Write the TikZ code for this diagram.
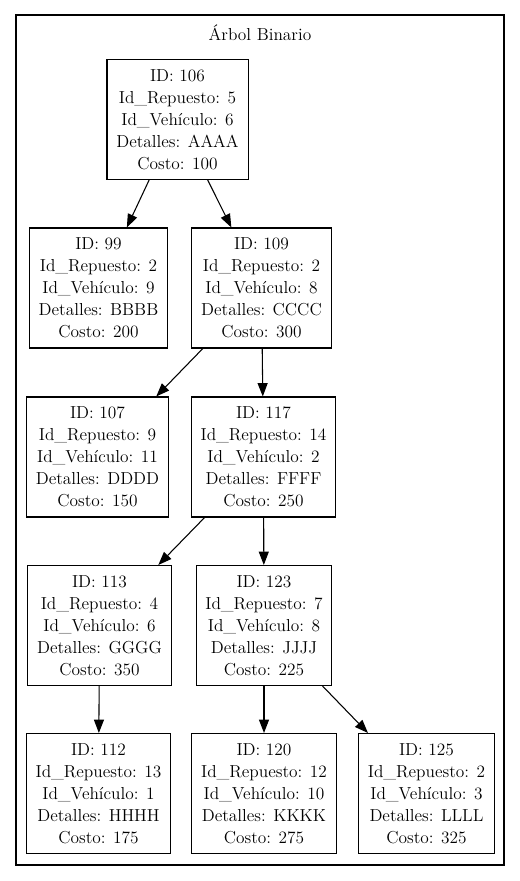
\documentclass[tikz,border=0pt]{standalone}
\usetikzlibrary{arrows.meta}
\tikzset{
  nodo/.style={draw, line width=0.8pt, align=center, inner xsep=7pt, minimum height=90pt,
    font=\fontsize{13}{16.5}\selectfont},
  flecha/.style={line width=0.8pt, -{Triangle[length=10pt,width=7.5pt]}}
}
\begin{document}
\begin{tikzpicture}[x=0.75pt,y=-0.75pt]
\useasboundingbox (0,0) rectangle (520,881);
% cluster
\draw[line width=0.8pt] (16,15) rectangle (504,865);
\node[font=\fontsize{13}{16.5}\selectfont] (titulo) at (260,33) {Árbol Binario};

% nodes
\node[nodo] (n106) at (177.5,119.5) {ID: 106\\Id\_Repuesto: 5\\Id\_Vehículo: 6\\Detalles: AAAA\\Costo: 100};
\node[nodo] (n99) at (98.5,288) {ID: 99\\Id\_Repuesto: 2\\Id\_Vehículo: 9\\Detalles: BBBB\\Costo: 200};
\node[nodo] (n109) at (261.5,288) {ID: 109\\Id\_Repuesto: 2\\Id\_Vehículo: 8\\Detalles: CCCC\\Costo: 300};
\node[nodo] (n107) at (97.5,457) {ID: 107\\Id\_Repuesto: 9\\Id\_Vehículo: 11\\Detalles: DDDD\\Costo: 150};
\node[nodo] (n117) at (263.5,457) {ID: 117\\Id\_Repuesto: 14\\Id\_Vehículo: 2\\Detalles: FFFF\\Costo: 250};
\node[nodo] (n113) at (99.5,625.5) {ID: 113\\Id\_Repuesto: 4\\Id\_Vehículo: 6\\Detalles: GGGG\\Costo: 350};
\node[nodo] (n123) at (264,625.5) {ID: 123\\Id\_Repuesto: 7\\Id\_Vehículo: 8\\Detalles: JJJJ\\Costo: 225};
\node[nodo] (n112) at (98.5,793.5) {ID: 112\\Id\_Repuesto: 13\\Id\_Vehículo: 1\\Detalles: HHHH\\Costo: 175};
\node[nodo] (n120) at (264,793.5) {ID: 120\\Id\_Repuesto: 12\\Id\_Vehículo: 10\\Detalles: KKKK\\Costo: 275};
\node[nodo] (n125) at (426.5,793.5) {ID: 125\\Id\_Repuesto: 2\\Id\_Vehículo: 3\\Detalles: LLLL\\Costo: 325};

% edges
\draw[flecha] (n106) -- (n99);
\draw[flecha] (n106) -- (n109);
\draw[flecha] (n109) -- (n107);
\draw[flecha] (n109) -- (n117);
\draw[flecha] (n117) -- (n113);
\draw[flecha] (n117) -- (n123);
\draw[flecha] (n113) -- (n112);
\draw[flecha] (n123) -- (n120);
\draw[flecha] (n123) -- (n125);
\end{tikzpicture}
\end{document}
